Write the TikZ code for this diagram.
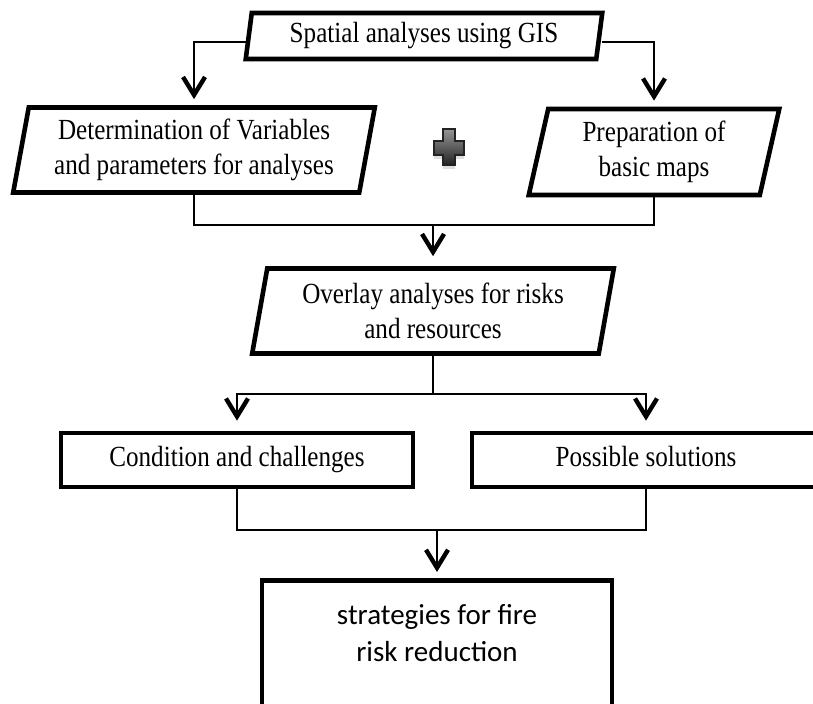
\documentclass[tikz,border=0pt]{standalone}
\usepackage{fontspec}
\setmainfont{Liberation Serif}[FakeStretch=0.86]
\newfontfamily\bodysans{Carlito}
\usepackage{xcolor}
\definecolor{plus_light}{RGB}{150,150,150}
\definecolor{plus_dark}{RGB}{35,35,35}
\usetikzlibrary{shapes.geometric,arrows.meta,shadows}

\begin{document}
\begin{tikzpicture}[x=0.5pt,y=-0.5pt,
  every node/.style={font=\fontsize{14.6pt}{17.5pt}\selectfont},
  para/.style={draw,line width=2.3pt,shape=trapezium,trapezium stretches=true,
    trapezium left angle=78,trapezium right angle=102,inner sep=0pt,align=center},
  rect/.style={draw,line width=2.3pt,rectangle,inner sep=0pt,align=center,
    text height=0.85em,text depth=0.2em},
  link/.style={line width=1pt},
  arr/.style={link,-{Straight Barb[length=9pt,width=11pt,line width=2.2pt]},shorten >=3pt}]
\useasboundingbox (0,0) rectangle (813,704);

\node[para,trapezium left angle=80,trapezium right angle=100,minimum width=178.5pt,minimum height=23pt] (gis) at (424,36) {Spatial analyses using GIS};
\node[para,minimum width=181pt,minimum height=42.5pt] (detvar) at (194,150) {Determination of Variables\\and parameters for analyses};
\node[para,minimum width=125.5pt,minimum height=43pt] (basemap) at (654,152) {Preparation of\\basic maps};
\node[para,minimum width=181pt,minimum height=42.5pt] (overlay) at (433,311) {Overlay analyses for risks\\and resources};
\node[rect,minimum width=176pt,minimum height=27pt] (cond) at (237,460) {Condition and challenges};
\node[rect,minimum width=174pt,minimum height=27pt] (sol) at (646,460) {Possible solutions};
\node[rect,anchor=north,minimum width=175pt,text height=40.5pt,text depth=80pt,
  font=\bodysans\fontsize{14.5pt}{18.5pt}\selectfont] (strat) at (437,578) {strategies for fire\\risk reduction};

\fill[drop shadow={shadow xshift=0pt,shadow yshift=-2pt,opacity=0.25},top color=plus_light,bottom color=plus_dark,draw=plus_dark,line width=0.8pt]
  (443,129) -- (455,129) -- (455,141) -- (464,141) -- (464,155) -- (455,155) -- (455,165)
  -- (443,165) -- (443,155) -- (434,155) -- (434,141) -- (443,141) -- cycle;

\draw[arr] ([yshift=-3pt]gis.west) -| (detvar.north);
\draw[arr] ([yshift=-3pt]gis.east) -| (basemap.north);

\path (overlay.north) ++(0,-41) coordinate (join1);
\draw[link] (detvar.south) |- (join1) -| (basemap.south);
\draw[arr,shorten >=5pt] (join1) -- (overlay.north);

\path (overlay.south) ++(0,38) coordinate (split);
\draw[link] (overlay.south) -- (split);
\draw[arr,shorten >=5pt] (split) -| (cond.north);
\draw[arr,shorten >=5pt] (split) -| (sol.north);

\path (strat.north) ++(0,-48) coordinate (join2);
\draw[link] (cond.south) |- (join2) -| (sol.south);
\draw[arr] (join2) -- (strat.north);

\end{tikzpicture}
\end{document}
